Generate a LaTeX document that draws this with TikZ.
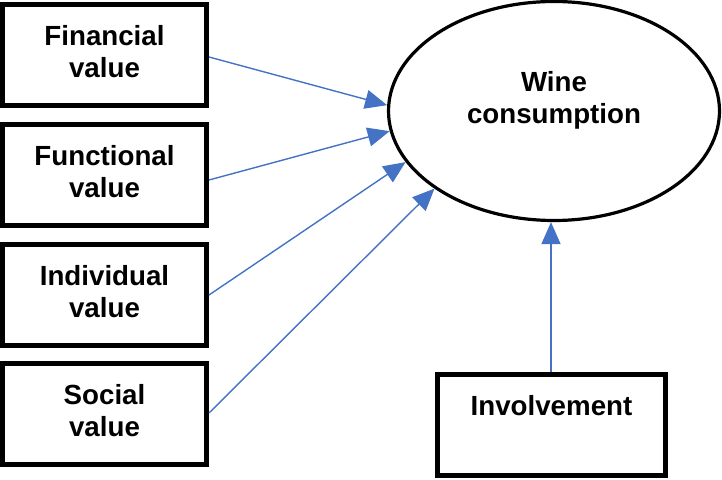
\documentclass[tikz,border=0pt]{standalone}
\usepackage{fontspec}
\setmainfont{Liberation Sans}
\usetikzlibrary{arrows.meta,shapes.geometric}
\definecolor{arrowblue}{HTML}{4472C4}
\newcommand\dpstrut[1]{\rule[-#1]{0pt}{#1}}
\begin{document}
\begin{tikzpicture}[x=1pt,y=1pt,
  every node/.style={font=\fontsize{27.7}{32}\selectfont\bfseries, align=center},
  valbox/.style={draw, line width=5pt, minimum width=204pt, minimum height=101pt, inner sep=0pt},
  oval/.style={draw, ellipse, line width=3.2pt, minimum width=331pt, minimum height=219pt, inner sep=0pt},
  conn/.style={draw=arrowblue, line width=1.4pt, -{Triangle[length=22pt,width=19pt]}}]
\useasboundingbox (0,0) rectangle (722,479);
\node[valbox] (b1) at (104.5,424) {Financial\\value\dpstrut{8pt}};
\node[valbox] (b2) at (104.5,304) {Functional\\value\dpstrut{8pt}};
\node[valbox] (b3) at (104.5,184) {Individual\\value\dpstrut{8pt}};
\node[valbox] (b4) at (104.5,65) {Social\\value\dpstrut{8pt}};
\node[oval] (W) at (554,368) {Wine\\consumption\dpstrut{27pt}};
\node[valbox, minimum width=228pt] (inv) at (551.5,54) {Involvement\dpstrut{40pt}};
\draw[conn] ([yshift=-2pt]b1.east) -- (W.178.6);
\draw[conn] ([yshift=-5pt]b2.east) -- (W.187.5);
\draw[conn] (b3.east) -- (W.199.9);
\draw[conn] ([yshift=1pt]b4.east) -- (W.213.6);
\draw[conn] ([xshift=-0.5pt]inv.north) -- ([xshift=-0.5pt]inv.north |- W.south);
\end{tikzpicture}
\end{document}
